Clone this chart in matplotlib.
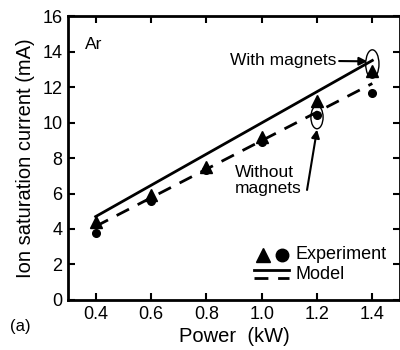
import matplotlib
matplotlib.use("Agg")
import matplotlib.pyplot as plt
from matplotlib.patches import Ellipse
from matplotlib.lines import Line2D

plt.rcParams['font.family'] = ['Liberation Sans', 'DejaVu Sans']

power = [0.4, 0.6, 0.8, 1.0, 1.2, 1.4]
exp_with = [4.4, 5.9, 7.5, 9.2, 11.2, 12.9]
exp_without = [3.8, 5.6, 7.3, 8.9, 10.4, 11.65]
model_x = [0.4, 1.4]
model_with = [4.7, 13.5]
model_without = [4.15, 12.2]
xticks = [0.4, 0.6, 0.8, 1.0, 1.2, 1.4]
xticklabels = ["0.4", "0.6", "0.8", "1.0", "1.2", "1.4"]
yticks = [0, 2, 4, 6, 8, 10, 12, 14, 16]

fig = plt.figure(figsize=(4, 3.5), dpi=100)
ax = fig.add_axes([0.17, 0.143, 0.83, 0.811])

ax.plot(model_x, model_with, color='black', lw=2)
ax.plot(model_x, model_without, color='black', lw=2, dashes=(5, 3.5))
ax.plot(power, exp_with, linestyle='none', marker='^', color='black', ms=8)
ax.plot(power, exp_without, linestyle='none', marker='o', color='black', ms=5.5)

ax.add_patch(Ellipse((1.4, 13.3), 0.048, 1.6, fill=False, color='black', lw=1))
ax.add_patch(Ellipse((1.2, 10.3), 0.044, 1.3, fill=False, color='black', lw=1))

ax.annotate("With magnets", xy=(1.382, 13.45), xytext=(1.27, 13.5),
            ha='right', va='center', fontsize=12.5,
            arrowprops=dict(arrowstyle='-|>', color='black', lw=1.5,
                            mutation_scale=12, shrinkA=0, shrinkB=0))
ax.annotate("", xy=(1.2, 9.6), xytext=(1.164, 6.2),
            arrowprops=dict(arrowstyle='-|>', color='black', lw=1.5,
                            mutation_scale=12, shrinkA=0, shrinkB=0))
ax.text(0.903, 6.75, "Without\nmagnets", ha='left', va='center', fontsize=12.5,
        linespacing=1.1)

ax.text(0.36, 14.4, "Ar", fontsize=12.5, ha='left', va='center')

# legend (manual)
ax.plot([1.004], [2.55], marker='^', color='black', ms=10, linestyle='none', clip_on=False)
ax.plot([1.074], [2.55], marker='o', color='black', ms=9, linestyle='none', clip_on=False)
ax.text(1.124, 2.55, "Experiment", fontsize=13, va='center', ha='left')
ax.add_line(Line2D([0.974, 1.10], [1.7, 1.7], color='black', lw=2))
ax.add_line(Line2D([0.974, 1.10], [1.25, 1.25], color='black', lw=2, dashes=(5, 3.5)))
ax.text(1.124, 1.45, "Model", fontsize=13, va='center', ha='left')

ax.set_xlim(0.3, 1.5)
ax.set_ylim(0, 16)
ax.set_xticks(xticks)
ax.set_xticklabels(xticklabels)
ax.set_yticks(yticks)
ax.tick_params(direction='in', top=True, right=True, length=5, width=1.5,
               labelsize=13, pad=4)
for s in ax.spines.values():
    s.set_linewidth(2)
ax.set_xlabel("Power  (kW)", fontsize=14.5, labelpad=3)
ax.set_ylabel("Ion saturation current (mA)", fontsize=14.5, labelpad=5)
fig.text(0.025, 0.066, "(a)", fontsize=12, ha='left', va='center')

fig.savefig("out.png", dpi=100)
